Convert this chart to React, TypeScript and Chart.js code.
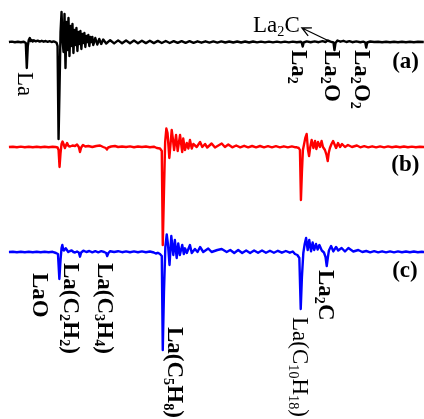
import { useEffect, useRef } from "react";
import { Chart, registerables } from "chart.js";

Chart.register(...registerables);

// x axis: mass (amu); y axis: intensity (arb. units), traces stacked with offsets
const MASS_MIN = 125.5;
const MASS_MAX = 339.1;
const INT_MIN = -377;
const INT_MAX = 42;
const traceOffsets = [0, -105, -210];
const traceColors = ["#000000", "#ff0000", "#0000ff"];

// (a) black trace: [mass, intensity]
const traceA: [number, number][] = [
  [130, 0], [131.5, 0.4], [133, -0.2], [134.5, 0.3], [136, -0.2], [137.5, 0.3], [138.5, -1], [139, -26], [139.5, -4], [140, 2], [140.5, 4], [141, 1], [141.5, 2], [142, 0.5], [142.5, 1.8], [143.5, 0.6], [144.5, 1.4], [145.5, 0.4], [146.5, 1.2], [147.5, 0.3], [148.5, 1], [149.5, 0.2], [150.5, 0.8], [151.5, 0], [152.5, 0.6], [153.5, -0.2], [154, -0.8], [154.5, -4],
  [155, -97], [155.5, -45], [156, 10], [156.5, 30], [157, 2], [157.5, -10], [158, 28], [158.5, -26], [159, 20], [159.5, -8], [160, 24], [160.5, -14], [161, 16], [161.5, -4], [162, 18], [162.5, -11], [163, 12], [163.5, -3], [164, 14], [164.5, -9], [165, 10], [165.5, -2], [166, 11], [166.5, -7], [167, 8], [167.5, -1], [168, 9], [168.5, -5], [169, 6], [169.5, 0], [170, 7], [170.5, -4], [171, 5], [171.5, 0], [172, 5], [172.5, -3], [173.5, 4], [174.5, -2.5], [175.5, 3], [176.5, -2], [177.5, 2.5],
  [179, -1.5], [181, 1.8], [183, -1.4], [185, 1.6], [187, -1.3], [189, 1.5], [191, -1.2], [193, 1.4], [195, -1.2], [197, 1.3], [199, -1.1], [201, 1.2], [203, -1.1], [205, 1.1], [207, -1], [209, 1], [211, -1], [213, 0.9], [215, -0.9], [217, 0.9], [219, -0.8], [221, 0.8], [223, -0.8], [225, 0.7], [227, -0.7], [229, 0.7], [231, -0.6], [233, 0.6], [235, -0.6], [237, 0.6], [239, -0.5], [241, 0.5], [243, -0.5], [245, 0.5], [247, -0.5], [249, 0.5], [251, -0.5], [253, 0.5], [255, -0.4], [257, 0.4], [259, -0.4], [261, 0.4], [263, -0.4], [265, 0.4], [267, -0.4], [269, 0.4], [271, -0.4], [273, 0.4], [275, -0.3], [277, 0.3],
  [277.5, -0.5], [278, -4.5], [278.5, -0.5], [280, 0.6], [282, -0.2], [284, 0.6], [286, -0.2], [288, 0.8], [289.5, 0], [290.5, 1.5], [292, 0.4], [293.5, -0.5], [294, -8], [294.5, -1], [295.5, 1.5], [297, 0.3], [298.5, 1.2], [300, 0], [301.5, 0.9], [303, -0.2], [305, 0.6], [307, -0.2], [308.5, 0.4], [309.5, -0.5], [310, -5.5], [310.5, -0.5], [312, 0.5], [314, 0], [316, 0.3], [318, -0.2], [320, 0.3], [322, -0.2], [324, 0.2], [326, -0.2], [328, 0.2], [330, -0.2], [332, 0.2], [334, -0.2], [336, 0.2], [339, 0],
];

// (b) red trace
const traceB: [number, number][] = [
  [130, 0], [132, 0.3], [134, -0.3], [136, 0.4], [138, -0.2], [140, 0.3], [142, -0.3], [144, 0.3], [146, -0.3], [148, 0.3], [150, -0.3], [152, 0.3], [153.5, 0], [154.5, -0.5], [155, -3], [155.5, -20], [156, -6], [156.5, 3], [157, 5.5], [157.5, 3], [158.2, -1], [158.8, 2], [159.3, 4], [160, 1], [160.8, 0.5], [162, 1.5], [163.3, 1], [164.3, 2.5], [165.2, 0], [165.8, -5], [166.4, -0.5], [167.3, 2], [168.5, 0.5], [170, 1], [172, 0], [174, 1], [175.9, 1.5], [177.5, 0], [178.8, -1], [179.4, -2.5], [180, -0.5], [181.5, 0.5], [183.4, 1], [185, 0], [187, 0.5], [189, 0], [191, 0.6], [193, -0.2], [195, 0.5], [197, 0], [199, 0.5], [201, -0.2], [203, 0.3], [204.5, -1], [206.1, -1.5], [207, -4],
  [207.5, -98], [208.1, -45], [208.7, 5], [209.3, 18.5], [209.9, 14], [210.8, -11], [211.5, 5], [212, 17], [212.6, 8], [213.2, -3], [214.2, 12], [215, -4], [216.2, 12], [217.3, -5], [217.8, 8.5], [218.7, -3], [219.6, 4], [220.4, -1.5], [221.2, 7], [222.1, -1.5], [222.9, 3], [224.6, 0], [226.3, 5], [227.4, 0], [228.8, 3], [229.9, -0.5], [232.1, 3.5], [233.8, -0.5], [237.2, 3.5], [238.8, 0], [240.5, 2.5], [242.5, -0.3], [244.5, 1.5], [246.5, -0.3], [248.5, 1.2], [250.5, -0.3], [252.5, 1], [254.5, -0.3], [256.5, 1], [258.5, -0.3], [260.5, 0.8], [262.5, -0.3], [264.5, 0.8], [266.5, -0.3], [268.5, 0.7], [270.5, -0.3], [272.5, 0.6], [274, -0.2], [275, -0.3], [276, -1], [276.6, -3],
  [277.1, -53], [277.6, -25], [278.1, -3], [278.6, 2], [279.3, 9], [280, 13], [280.6, -2], [281.2, -9], [281.8, 0], [282.5, 7], [283.4, -1], [284.2, 6], [284.9, -2], [285.7, 5], [286.7, 0], [287.5, 6], [288.2, 0], [289.2, -3], [290, -8], [290.6, -14], [291.1, -6], [291.7, -1], [292.5, 3], [293.3, 6], [294.8, -1], [295.8, 4], [296.8, 0], [297.8, 3], [299.3, 0], [300.8, 2], [302.8, 0], [305.3, 1.5], [307, -0.3], [309, 0.8], [311, -0.3], [313, 0.7], [315, -0.3], [317, 0.6], [319, -0.3], [321, 0.6], [323, -0.2], [325, 0.5], [327, -0.2], [329, 0.5], [331, -0.2], [333, 0.4], [335, -0.2], [337, 0.3], [339.5, 0],
];

// (c) blue trace
const traceC: [number, number][] = [
  [130, 0], [132, 0.2], [134, -0.2], [136, 0.3], [138, -0.2], [140, 0.2], [142, -0.2], [144, 0.3], [146, -0.2], [148, 0.2], [150, -0.2], [152, 0.2], [153.7, -1], [154.7, -2], [155.4, -27], [156, -8], [156.5, 4], [156.9, 7], [157.4, 2], [157.7, 1.5], [158.6, 3.7], [159.9, 0], [160.8, 1], [161.6, 1.5], [162.5, 0], [163.3, -0.5], [164.3, 0.5], [165.2, -0.5], [165.8, -4.7], [166.4, -0.5], [167.5, 1.3], [169, 0], [170.5, 1], [172, -0.3], [173.5, 0.8], [175, -0.3], [176.5, 0.8], [178, 0], [179, -1], [179.5, -4], [180.1, -1], [181, 0.8], [183, 0], [185, 0.8], [187, -0.2], [189, 0.6], [191, -0.2], [193, 0.6], [195, -0.2], [197, 0.6], [199, -0.2], [201, 0.5], [203, -0.5], [204, -1.5], [205, -0.8], [206.1, -2], [207, -4],
  [207.5, -98], [208.1, -40], [208.8, 5], [209.5, 17.5], [210.1, 8], [210.9, -13], [211.8, 16], [212.8, -3], [213.6, 12], [214.5, -6], [215.3, 8.5], [216.1, -3], [217.3, 7], [218.1, -2], [218.7, 3.7], [219.6, -1], [221.2, 7], [222.1, -1], [223.7, 3], [225, 0], [226.3, 5], [227.9, 0], [230.4, 3.5], [232.1, 0], [235, 2], [237.2, 3], [239.7, 0], [241.5, 2], [243.5, -1], [245.5, 2], [247.5, -1], [249.5, 1.5], [251.5, -1], [253.5, 1.5], [255.5, -0.8], [257.5, 1.5], [259.5, -0.8], [261.5, 1.2], [263.5, -0.8], [265.5, 1.2], [267.5, -0.7], [269.5, 1], [271.5, -0.7], [273, 0.5], [274.1, -2], [275.3, -3], [276.3, -6],
  [277, -57], [277.6, -25], [278.3, -1], [279, 8], [279.7, 14], [280.5, 2], [281.3, 12], [282.2, 0.6], [283, 9.6], [283.8, 2], [284.7, 8], [285.5, 2.5], [286.4, 7], [287.6, 1.5], [288.7, -0.5], [289.5, -5], [290.1, -14], [290.7, -5], [291.2, 1.5], [292.3, 6], [293.4, 0.6], [294.8, 5], [295.9, 1.5], [297.6, 4], [299.3, 0.5], [301, 4], [303.5, 0.5], [306, 2], [308, 0], [310, 1], [312, -0.3], [314, 0.8], [316, -0.3], [318, 0.7], [320, -0.3], [322, 0.6], [324, -0.3], [326, 0.6], [328, -0.2], [330, 0.5], [332, -0.2], [334, 0.5], [336, -0.2], [338, 0.3], [339.5, 0],
];

// Annotations (data coordinates: mass, stacked intensity). "_n" marks a subscript.
const labelTexts = ["La", "La_2", "La_2O", "La_2O_2", "La_2C", "(a)", "(b)", "(c)", "LaO", "La(C_2H_2)", "La(C_3H_4)", "La(C_5H_8)", "La_2C", "La(C_10H_18)"];
const labelMasses = [138.35, 276.6, 292.8, 308.1, 252.96, 329.8, 329.7, 329.5, 146.2, 161.5, 178.9, 213.9, 290.0, 276.9];
const labelValues = [-30, -8, -8, -8, 17.2, -18, -121, -227, -231, -221, -221, -285, -228, -275];
const labelBold = [false, true, true, true, false, true, true, true, true, true, true, true, true, false];
const labelVertical = [true, true, true, true, false, false, false, false, true, true, true, true, true, true];
const labelCentered = [false, false, false, false, false, true, true, true, false, false, false, false, false, false];

// Arrow from the La2C feature to its label: [mass, intensity]
const arrowFrom: [number, number] = [290.2, 2];
const arrowTo: [number, number] = [277.6, 14];

const FONT_SIZE = 23;
const FONT_FAMILY = '"Liberation Serif", "Times New Roman", serif';

type Seg = { text: string; sub: boolean };
function parseSegments(t: string): Seg[] {
  const out: Seg[] = [];
  const re = /_(\d+)/g;
  let last = 0;
  let m: RegExpExecArray | null;
  while ((m = re.exec(t))) {
    if (m.index > last) out.push({ text: t.slice(last, m.index), sub: false });
    out.push({ text: m[1], sub: true });
    last = re.lastIndex;
  }
  if (last < t.length) out.push({ text: t.slice(last), sub: false });
  return out;
}

function setFont(ctx: CanvasRenderingContext2D, size: number, bold: boolean) {
  ctx.font = `${bold ? "bold " : ""}${size}px ${FONT_FAMILY}`;
}

function measureRich(ctx: CanvasRenderingContext2D, segs: Seg[], bold: boolean) {
  let w = 0;
  for (const s of segs) {
    setFont(ctx, s.sub ? FONT_SIZE * 0.62 : FONT_SIZE, bold);
    w += ctx.measureText(s.text).width;
  }
  return w;
}

function drawRich(ctx: CanvasRenderingContext2D, segs: Seg[], bold: boolean) {
  let x = 0;
  const base = FONT_SIZE * 0.33;
  ctx.textBaseline = "alphabetic";
  ctx.textAlign = "left";
  for (const s of segs) {
    setFont(ctx, s.sub ? FONT_SIZE * 0.62 : FONT_SIZE, bold);
    ctx.fillText(s.text, x, base + (s.sub ? FONT_SIZE * 0.17 : 0));
    x += ctx.measureText(s.text).width;
  }
}

const annotationPlugin = {
  id: "annotations",
  afterDatasetsDraw(chart: any) {
    const ctx: CanvasRenderingContext2D = chart.ctx;
    const xs = chart.scales.x;
    const ys = chart.scales.y;
    ctx.save();
    ctx.fillStyle = "#000";
    labelTexts.forEach((t, i) => {
      const segs = parseSegments(t);
      const px = xs.getPixelForValue(labelMasses[i]);
      const py = ys.getPixelForValue(labelValues[i]);
      ctx.save();
      if (labelVertical[i]) {
        ctx.translate(px, py);
        ctx.rotate(Math.PI / 2);
      } else if (labelCentered[i]) {
        const w = measureRich(ctx, segs, labelBold[i]);
        ctx.translate(px - w / 2, py);
      } else {
        ctx.translate(px, py);
      }
      drawRich(ctx, segs, labelBold[i]);
      ctx.restore();
    });
    // arrow
    const x1 = xs.getPixelForValue(arrowFrom[0]);
    const y1 = ys.getPixelForValue(arrowFrom[1]);
    const x2 = xs.getPixelForValue(arrowTo[0]);
    const y2 = ys.getPixelForValue(arrowTo[1]);
    ctx.strokeStyle = "#000";
    ctx.lineWidth = 1.3;
    ctx.beginPath();
    ctx.moveTo(x1, y1);
    ctx.lineTo(x2, y2);
    const ang = Math.atan2(y2 - y1, x2 - x1);
    const head = 10;
    ctx.moveTo(x2 - head * Math.cos(ang - 0.45), y2 - head * Math.sin(ang - 0.45));
    ctx.lineTo(x2, y2);
    ctx.lineTo(x2 - head * Math.cos(ang + 0.45), y2 - head * Math.sin(ang + 0.45));
    ctx.stroke();
    ctx.restore();
  },
};

export default function App() {
  const ref = useRef<HTMLCanvasElement>(null);
  useEffect(() => {
    const traces = [traceA, traceB, traceC];
    const chart = new Chart(ref.current!, {
      type: "line",
      data: {
        datasets: traces.map((tr, i) => ({
          data: tr.map(([m, v]) => ({ x: m, y: v + traceOffsets[i] })),
          borderColor: traceColors[i],
          borderWidth: 2.4,
          pointRadius: 0,
          tension: 0,
          fill: false,
          borderJoinStyle: "round" as const,
        })),
      },
      options: {
        animation: false,
        responsive: false,
        devicePixelRatio: 1,
        layout: { padding: 0 },
        plugins: { legend: { display: false }, tooltip: { enabled: false } },
        events: [],
        scales: {
          x: { type: "linear", min: MASS_MIN, max: MASS_MAX, display: false },
          y: { type: "linear", min: INT_MIN, max: INT_MAX, display: false },
        },
      },
      plugins: [annotationPlugin],
    });
    return () => chart.destroy();
  }, []);
  return (
    <div style={{ position: "absolute", left: 0, top: 0, width: 424, height: 419, background: "#fff" }}>
      <canvas ref={ref} width={424} height={419} style={{ display: "block" }} />
    </div>
  );
}
